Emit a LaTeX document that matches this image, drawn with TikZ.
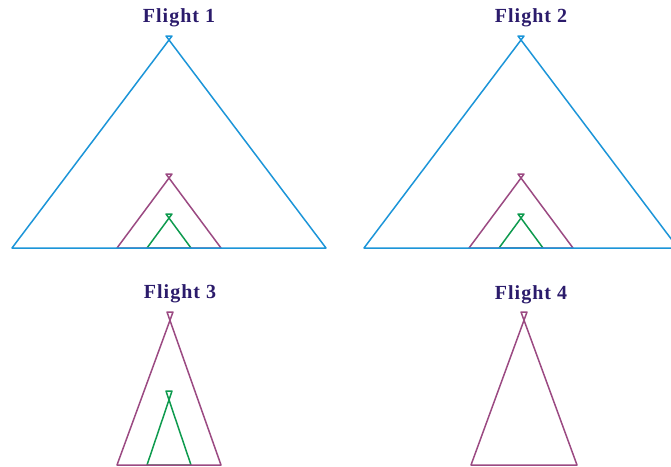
\documentclass[tikz,border=0pt]{standalone}
\usepackage{fontspec}
\setmainfont{Liberation Serif}
\definecolor{FlBlue}{HTML}{1C95D8}
\definecolor{FlPurple}{HTML}{9B4A82}
\definecolor{FlGreen}{HTML}{0E9A4E}
\definecolor{FlNavy}{HTML}{2B1B6B}
\usepackage{tikz}
\usetikzlibrary{positioning}

\begin{document}
\begin{tikzpicture}[x=1pt, y=-1pt,
    ttl/.style={text=FlNavy, font=\fontsize{20}{20}\selectfont\bfseries\addfontfeature{LetterSpace=5}, inner sep=0pt},
    cone/.style={line width=1.5pt, line join=round}]
    \useasboundingbox (0,0) rectangle (671,466);
    \clip (0,0) rectangle (671,466);
    % titles
    \node[ttl] (t1) at (179,18) {Flight 1};
    \node[ttl] (t2) at (531,18) {Flight 2};
    \node[ttl] (t3) at (180,294) {Flight 3};
    \node[ttl] (t4) at (531,295) {Flight 4};
    % flight 1
    \draw[cone, FlGreen] (147,248) -- (172,214) -- (166,214) -- (191,248) -- cycle;
    \draw[cone, FlPurple] (117,248) -- (172,174) -- (166,174) -- (221,248) -- cycle;
    \draw[cone, FlBlue] (12,248) -- (172,36) -- (166,36) -- (326,248) -- cycle;
    % flight 2
    \draw[cone, FlGreen] (499,248) -- (524,214) -- (518,214) -- (543,248) -- cycle;
    \draw[cone, FlPurple] (469,248) -- (524,174) -- (518,174) -- (573,248) -- cycle;
    \draw[cone, FlBlue] (364,248) -- (524,36) -- (518,36) -- (678,248) -- cycle;
    % flight 3
    \draw[cone, FlGreen] (147,465) -- (172,391) -- (166,391) -- (191,465) -- cycle;
    \draw[cone, FlPurple] (117,465) -- (173,312) -- (167,312) -- (221,465) -- cycle;
    % flight 4
    \draw[cone, FlPurple] (471,465) -- (527,312) -- (521,312) -- (577,465) -- cycle;
\end{tikzpicture}
\end{document}
